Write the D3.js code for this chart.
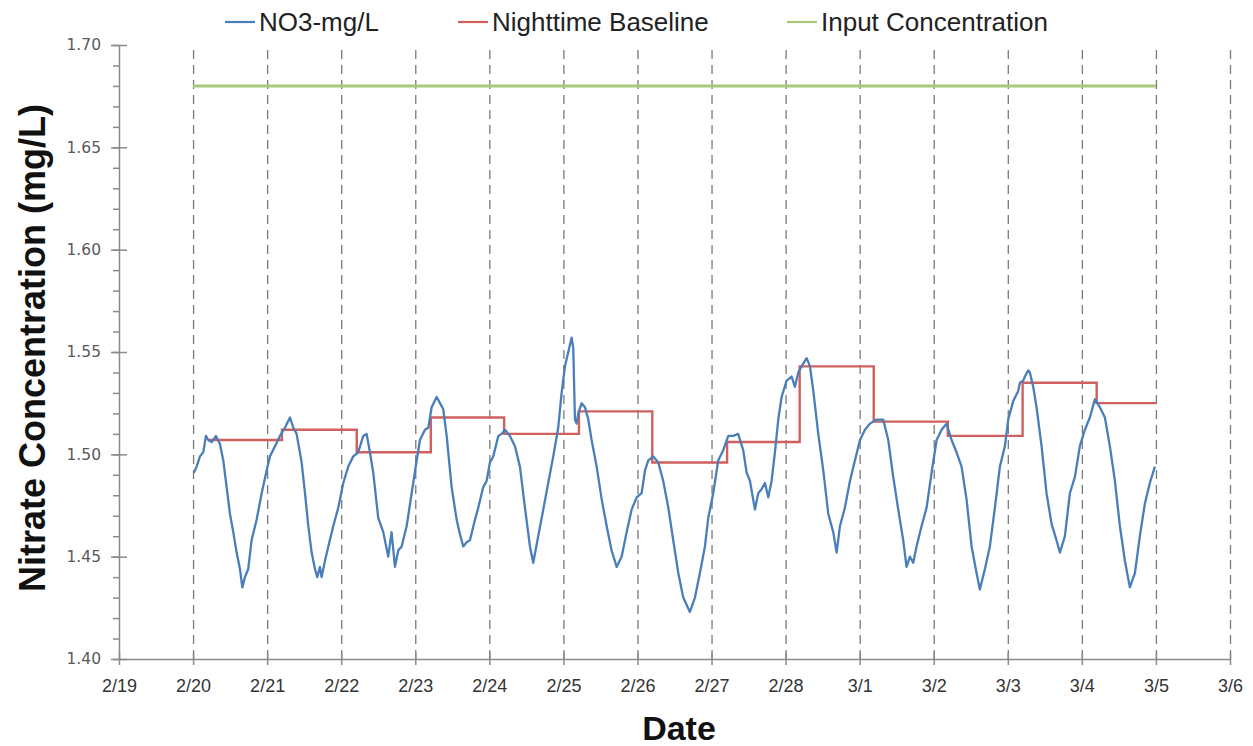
<!DOCTYPE html>
<html>
<head>
<meta charset="utf-8">
<script src="https://cdn.jsdelivr.net/npm/d3@7"></script>
<style>
  html, body { margin: 0; padding: 0; background: #ffffff; }
  svg { display: block; }
</style>
</head>
<body>
<svg id="chart" width="1253" height="746"></svg>
<script>
// Nitrate record, 2/20 00:00 through 3/5 00:00.
// Time is given in days after 2/20 00:00.
const no3Days = [
  0.010, 0.048, 0.093, 0.138, 0.174, 0.206, 0.251, 0.309, 0.363, 0.408, 0.453, 0.498, 0.543, 0.588, 0.633, 0.665,
  0.700, 0.745, 0.790, 0.858, 0.926, 0.993, 1.038, 1.106, 1.173, 1.241, 1.308, 1.353, 1.398, 1.466, 1.511, 1.556,
  1.601, 1.646, 1.677, 1.713, 1.736, 1.781, 1.826, 1.893, 1.961, 2.028, 2.095, 2.163, 2.230, 2.298, 2.343, 2.388,
  2.433, 2.500, 2.568, 2.635, 2.680, 2.726, 2.770, 2.816, 2.884, 2.951, 3.019, 3.063, 3.131, 3.176, 3.221, 3.289,
  3.334, 3.378, 3.424, 3.491, 3.559, 3.603, 3.648, 3.694, 3.738, 3.806, 3.851, 3.918, 3.963, 4.008, 4.053, 4.121,
  4.166, 4.211, 4.278, 4.346, 4.413, 4.481, 4.548, 4.593, 4.660, 4.728, 4.795, 4.863, 4.930, 4.976, 5.021, 5.066,
  5.111, 5.133, 5.156, 5.178, 5.201, 5.246, 5.291, 5.336, 5.381, 5.449, 5.517, 5.584, 5.651, 5.719, 5.786, 5.854,
  5.921, 5.989, 6.056, 6.101, 6.146, 6.213, 6.281, 6.348, 6.416, 6.483, 6.551, 6.618, 6.708, 6.776, 6.843, 6.911,
  6.956, 7.023, 7.090, 7.158, 7.226, 7.293, 7.360, 7.428, 7.474, 7.519, 7.586, 7.631, 7.676, 7.721, 7.766, 7.811,
  7.856, 7.901, 7.946, 8.014, 8.081, 8.126, 8.171, 8.216, 8.284, 8.329, 8.374, 8.441, 8.509, 8.576, 8.643, 8.689,
  8.734, 8.801, 8.869, 8.936, 9.004, 9.071, 9.139, 9.229, 9.318, 9.386, 9.453, 9.521, 9.588, 9.633, 9.679, 9.723,
  9.768, 9.836, 9.904, 9.971, 10.039, 10.106, 10.173, 10.241, 10.308, 10.376, 10.443, 10.511, 10.578, 10.623, 10.691, 10.758,
  10.826, 10.893, 10.961, 11.006, 11.073, 11.141, 11.163, 11.208, 11.231, 11.276, 11.298, 11.343, 11.388, 11.456, 11.523, 11.591,
  11.658, 11.703, 11.771, 11.838, 11.906, 11.973, 12.041, 12.108, 12.176, 12.243, 12.311, 12.378, 12.446, 12.513, 12.581, 12.648,
  12.716, 12.783, 12.851, 12.918, 12.986
];
const no3Values = [
  1.491, 1.494, 1.499, 1.501, 1.509, 1.507, 1.506, 1.509, 1.505, 1.497, 1.484, 1.471, 1.462, 1.452, 1.444, 1.435,
  1.440, 1.444, 1.458, 1.468, 1.481, 1.492, 1.499, 1.504, 1.509, 1.513, 1.518, 1.513, 1.510, 1.496, 1.481, 1.465,
  1.452, 1.444, 1.440, 1.445, 1.440, 1.448, 1.455, 1.465, 1.474, 1.486, 1.494, 1.499, 1.501, 1.509, 1.510, 1.501,
  1.491, 1.469, 1.462, 1.450, 1.462, 1.445, 1.453, 1.455, 1.465, 1.481, 1.497, 1.507, 1.512, 1.513, 1.523, 1.528,
  1.525, 1.522, 1.509, 1.484, 1.468, 1.461, 1.455, 1.457, 1.458, 1.468, 1.474, 1.484, 1.487, 1.496, 1.499, 1.509,
  1.510, 1.512, 1.509, 1.504, 1.494, 1.474, 1.455, 1.447, 1.460, 1.473, 1.486, 1.499, 1.513, 1.530, 1.543, 1.550,
  1.557, 1.552, 1.517, 1.515, 1.520, 1.525, 1.523, 1.517, 1.507, 1.494, 1.478, 1.465, 1.453, 1.445, 1.450, 1.462,
  1.473, 1.479, 1.481, 1.492, 1.497, 1.499, 1.496, 1.487, 1.474, 1.458, 1.442, 1.430, 1.423, 1.430, 1.442, 1.455,
  1.469, 1.481, 1.497, 1.502, 1.509, 1.509, 1.510, 1.502, 1.491, 1.487, 1.473, 1.481, 1.483, 1.486, 1.479, 1.487,
  1.501, 1.517, 1.528, 1.536, 1.538, 1.533, 1.540, 1.543, 1.547, 1.543, 1.531, 1.510, 1.492, 1.471, 1.462, 1.452,
  1.465, 1.474, 1.487, 1.497, 1.507, 1.512, 1.515, 1.517, 1.517, 1.507, 1.489, 1.473, 1.458, 1.445, 1.450, 1.447,
  1.455, 1.465, 1.474, 1.491, 1.507, 1.512, 1.515, 1.507, 1.501, 1.494, 1.478, 1.455, 1.442, 1.434, 1.444, 1.455,
  1.474, 1.494, 1.504, 1.517, 1.526, 1.531, 1.535, 1.536, 1.538, 1.541, 1.540, 1.533, 1.523, 1.504, 1.481, 1.466,
  1.458, 1.452, 1.460, 1.481, 1.489, 1.504, 1.512, 1.518, 1.527, 1.523, 1.518, 1.504, 1.487, 1.465, 1.448, 1.435,
  1.442, 1.460, 1.476, 1.486, 1.494
];

// Nighttime baseline: each level holds from its start time until the next one.
const baselineStartDays = [0.20, 1.20, 2.21, 3.21, 4.20, 5.21, 6.20, 7.21, 8.19, 9.19, 10.19, 11.20, 12.20];
const baselineValues = [1.507, 1.512, 1.501, 1.518, 1.510, 1.521, 1.496, 1.506, 1.543, 1.516, 1.509, 1.535, 1.525];
const baselineEndDay = 13.0;

// Input concentration, constant over the record.
const inputDays = [0, 13];
const inputValues = [1.68, 1.68];

const yTickValues = [1.40, 1.45, 1.50, 1.55, 1.60, 1.65, 1.70];
const yDomain = [1.40, 1.70];
const seriesNames = ["NO3-mg/L", "Nighttime Baseline", "Input Concentration"];
const seriesColors = ["#4a7ebb", "#d0605d", "#a9c97a"];

const DAY = 864e5;
const t0 = Date.UTC(2015, 1, 20);
const toDate = d => new Date(t0 + d * DAY);

const svg = d3.select("#chart");
const plot = { left: 119, right: 1230, top: 45, bottom: 659 };

const x = d3.scaleUtc()
  .domain([new Date(Date.UTC(2015, 1, 19)), new Date(Date.UTC(2015, 2, 6))])
  .range([plot.left, plot.right]);
const y = d3.scaleLinear().domain(yDomain).range([plot.bottom, plot.top]);

const dayTicks = d3.utcDay.range(x.domain()[0], d3.utcDay.offset(x.domain()[1], 1));
const axisColor = "#8a8a8a";

// Dashed vertical gridlines at every day except the y axis itself
const grid = svg.append("g")
  .attr("transform", `translate(0,${plot.bottom})`)
  .call(d3.axisBottom(x).tickValues(dayTicks.slice(1)).tickSize(-(plot.bottom - plot.top)).tickFormat(""));
grid.select(".domain").remove();
grid.selectAll(".tick line")
  .attr("stroke", "#7a7a7a").attr("stroke-width", 1.3).attr("stroke-dasharray", "9,6");

// Series lines
const lineGen = d3.line().x(d => x(d[0])).y(d => y(d[1]));

svg.append("path")
  .datum(inputDays.map((d, i) => [toDate(d), inputValues[i]]))
  .attr("fill", "none").attr("stroke", seriesColors[2]).attr("stroke-width", 3)
  .attr("d", lineGen);

const baseData = baselineStartDays.map((d, i) => [toDate(d), baselineValues[i]]);
baseData.push([toDate(baselineEndDay), baselineValues[baselineValues.length - 1]]);
svg.append("path")
  .datum(baseData)
  .attr("fill", "none").attr("stroke", seriesColors[1]).attr("stroke-width", 2.4)
  .attr("d", lineGen.curve(d3.curveStepAfter));

svg.append("path")
  .datum(no3Days.map((d, i) => [toDate(d), no3Values[i]]))
  .attr("fill", "none").attr("stroke", seriesColors[0]).attr("stroke-width", 2.3)
  .attr("stroke-linejoin", "round")
  .attr("d", d3.line().x(d => x(d[0])).y(d => y(d[1])));

// Y axis: labelled major ticks crossing the axis, short minor ticks outside
const yMinor = d3.range(0, 31).map(i => yDomain[0] + i * 0.01);
const yAxisG = svg.append("g").attr("transform", `translate(${plot.left},0)`);
yAxisG.append("g")
  .call(d3.axisLeft(y).tickValues(yMinor).tickSize(6).tickFormat(""))
  .call(g => g.select(".domain").remove());
yAxisG.append("g")
  .call(d3.axisRight(y).tickValues(yTickValues).tickSize(8).tickFormat(""))
  .call(g => g.select(".domain").remove());
yAxisG.append("g")
  .call(d3.axisLeft(y).tickValues(yTickValues).tickSizeInner(8).tickSizeOuter(0).tickPadding(10).tickFormat(d3.format(".2f")))
  .call(g => g.selectAll("text").attr("font-family", "DejaVu Sans, Verdana, sans-serif").attr("font-size", 15.5).attr("fill", "#5a5a5a"));
yAxisG.selectAll("line, path").attr("stroke", axisColor).attr("stroke-width", 1.5);

// X axis: day ticks crossing the axis
const xAxisG = svg.append("g").attr("transform", `translate(0,${plot.bottom})`);
xAxisG.append("g")
  .call(d3.axisTop(x).tickValues(dayTicks).tickSize(6).tickFormat(""))
  .call(g => g.select(".domain").remove());
xAxisG.append("g")
  .call(d3.axisBottom(x).tickValues(dayTicks).tickSizeInner(6).tickSizeOuter(0).tickPadding(14).tickFormat(d3.utcFormat("%-m/%-d")))
  .call(g => g.selectAll("text")
    .attr("font-family", "Liberation Sans Narrow, Arial Narrow, sans-serif")
    .attr("font-size", 18).attr("fill", "#333333"));
xAxisG.selectAll("line, path").attr("stroke", axisColor).attr("stroke-width", 1.5);

// Axis titles
svg.append("text")
  .attr("transform", `translate(45,${(plot.top + plot.bottom) / 2 - 4}) rotate(-90)`)
  .attr("text-anchor", "middle")
  .attr("font-family", "Liberation Sans, Arial, sans-serif").attr("font-weight", "bold")
  .attr("font-size", 36).attr("fill", "#111111")
  .text("Nitrate Concentration (mg/L)");

svg.append("text")
  .attr("x", 679).attr("y", 740)
  .attr("text-anchor", "middle")
  .attr("font-family", "Liberation Sans Narrow, Arial Narrow, sans-serif").attr("font-weight", "bold")
  .attr("font-size", 34).attr("fill", "#111111")
  .text("Date");

// Legend
const legendX = [225, 458, 787];
const legend = svg.append("g");
seriesNames.forEach((name, i) => {
  legend.append("line")
    .attr("x1", legendX[i]).attr("x2", legendX[i] + 30)
    .attr("y1", 22).attr("y2", 22)
    .attr("stroke", seriesColors[i]).attr("stroke-width", 2.2);
  legend.append("text")
    .attr("x", legendX[i] + 34).attr("y", 31)
    .attr("font-family", "Liberation Sans Narrow, Arial Narrow, sans-serif")
    .attr("font-size", 26).attr("fill", "#222222")
    .text(name);
});
</script>
</body>
</html>
